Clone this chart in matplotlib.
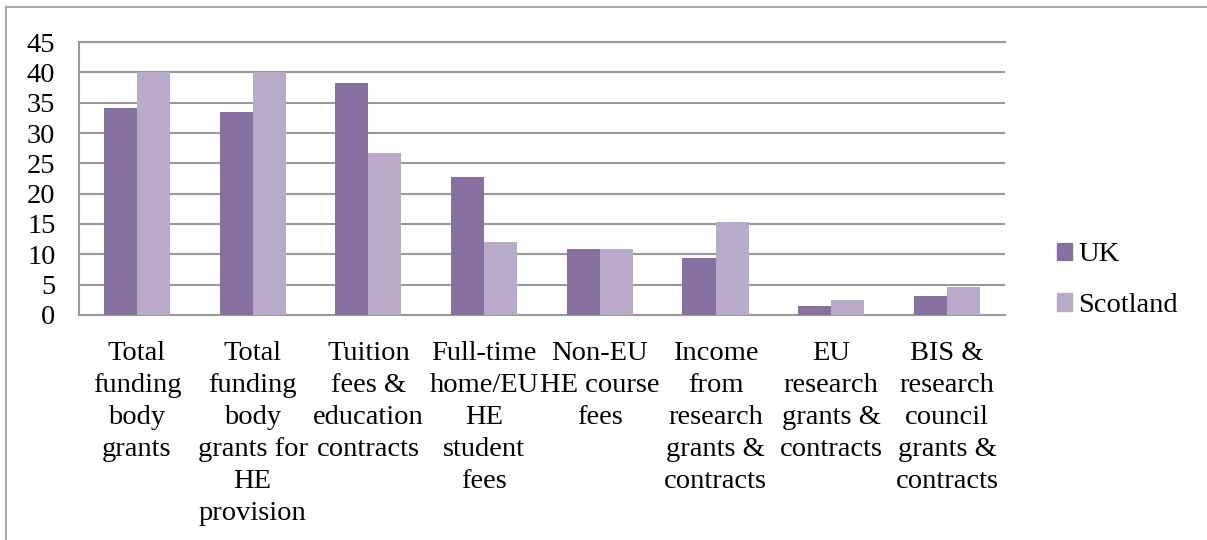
import numpy as np
import matplotlib
matplotlib.use("Agg")
import matplotlib.pyplot as plt
from matplotlib.patches import Patch
from matplotlib.lines import Line2D

# Income sources, share of total income (%)
categories = [
    "Total\nfunding\nbody\ngrants",
    "Total\nfunding\nbody\ngrants for\nHE\nprovision",
    "Tuition\nfees &\neducation\ncontracts",
    "Full-time\nhome/EU\nHE\nstudent\nfees",
    "Non-EU\nHE course\nfees",
    "Income\nfrom\nresearch\ngrants &\ncontracts",
    "EU\nresearch\ngrants &\ncontracts",
    "BIS &\nresearch\ncouncil\ngrants &\ncontracts",
]
uk = [34.2, 33.5, 38.2, 22.7, 10.9, 9.4, 1.5, 3.1]
scotland = [40.0, 40.0, 26.7, 12.0, 10.9, 15.3, 2.5, 4.6]
yticks = list(range(0, 50, 5))

UK_COLOR = "#86709f"
SCOT_COLOR = "#b8aac9"
GRID_COLOR = "#999999"

plt.rcParams["font.family"] = ["Liberation Serif", "DejaVu Serif"]
plt.rcParams["font.size"] = 20.5

fig = plt.figure(figsize=(12.07, 5.4), dpi=100)
ax = fig.add_axes([0.0655, 0.4167, 0.767, 0.5055])

x = np.arange(len(categories))
w = 1 / 3.5
ax.bar(x - w / 2, uk, width=w, color=UK_COLOR, label="UK", zorder=3)
ax.bar(x + w / 2, scotland, width=w, color=SCOT_COLOR, label="Scotland", zorder=3)

ax.set_xlim(-0.5, len(categories) - 0.5)
ax.set_ylim(0, 45)
ax.set_yticks(yticks)
ax.set_xticks(x)
ax.set_xticklabels(categories, linespacing=1.36)
ax.yaxis.grid(True, color=GRID_COLOR, linewidth=1.5, zorder=0)
ax.tick_params(axis="both", length=0)
ax.tick_params(axis="y", pad=17)
ax.tick_params(axis="x", pad=19)

ax.spines["right"].set_visible(False)
for side in ["left", "top", "bottom"]:
    ax.spines[side].set_color(GRID_COLOR)
    ax.spines[side].set_linewidth(1.5)

handles = [Patch(color=UK_COLOR, label="UK"), Patch(color=SCOT_COLOR, label="Scotland")]
fig.legend(handles=handles, loc="center left", bbox_to_anchor=(0.866, 0.481),
           frameon=False, handlelength=0.55, handleheight=0.55,
           handletextpad=0.2, labelspacing=0.9, borderaxespad=0)

# outer chart frame (left and top edges)
fig.add_artist(Line2D([0.005, 0.005], [0, 0.987], color="#a6a6a6", linewidth=1.5))
fig.add_artist(Line2D([0.005, 1.0], [0.987, 0.987], color="#a6a6a6", linewidth=1.5))

fig.savefig("out.png", dpi=100)
